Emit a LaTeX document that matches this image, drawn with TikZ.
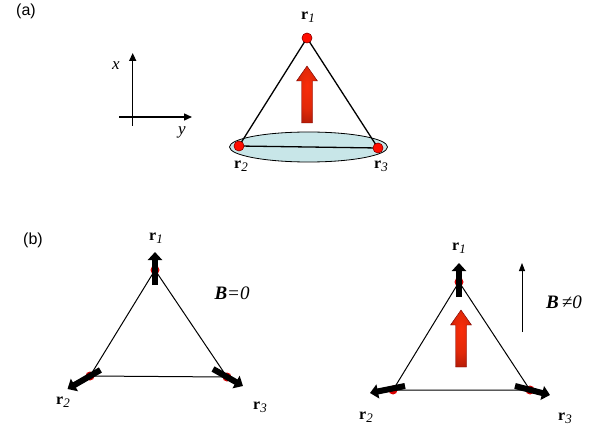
\documentclass[tikz,border=0pt]{standalone}
\usepackage{fontspec}
\setmainfont{Liberation Serif}
\newfontfamily\panelfont{Liberation Sans}
\usetikzlibrary{arrows.meta,positioning}

\definecolor{discblue}{RGB}{200,230,232}
\definecolor{glowred}{RGB}{250,45,10}
\definecolor{deepred}{RGB}{120,10,5}
\pgfdeclareradialshading{fieldglow}{\pgfpoint{0bp}{8bp}}{%
  color(0bp)=(glowred); color(18bp)=(glowred!90!black); color(38bp)=(deepred!80!glowred); color(50bp)=(deepred)}
\newcommand{\rsite}[1]{\textbf{r}\raisebox{-3pt}{\fontsize{13}{13}\selectfont\textit{#1}}}
% red arrow of the field: centre x, tip y, bottom y
\newcommand{\fieldarrow}[3]{%
  \path[field] (#1-5.5,#3) -- (#1-5.5,#2+15) -- (#1-10.5,#2+15) -- (#1,#2)
    -- (#1+10.5,#2+15) -- (#1+5.5,#2+15) -- (#1+5.5,#3) -- cycle;}

\tikzset{
  site/.style={circle, fill=red!90!orange, draw=red!50!black, inner sep=0pt, minimum size=10pt},
  smallsite/.style={circle, fill=red!85!black, inner sep=0pt, minimum size=9pt},
  bond/.style={line width=1pt},
  spin/.style={line width=6pt, -{Triangle[width=14pt,length=8pt]}},
  field/.style={shading=fieldglow, draw=red!45!black, line width=0.4pt},
  label/.style={font=\fontsize{16}{18}\selectfont},
  panel/.style={font=\panelfont\fontsize{16}{18}\selectfont},
}

\begin{document}
\begin{tikzpicture}[x=1pt, y=-1pt, >=latex]
        \useasboundingbox (0,0) rectangle (603,433);
        % ==== PANEL (a) ====
        \node[panel] (pa) at (26,11) {(a)};
        % axes
        \coordinate (ax0) at (132.7,117);
        \coordinate (axl) at (119,117);
        \coordinate (axr) at (192,117);
        \coordinate (axb) at (132.7,126);
        \coordinate (axt) at (132.7,53);
        \draw[line width=1.4pt, -{Triangle[width=7pt,length=8pt]}] (axl) -- (axr);
        \draw[line width=1.4pt, -{Triangle[width=7pt,length=8pt]}] (axb) -- (axt);
        \node[font=\fontsize{17}{19}\selectfont\itshape] (xlab) at (116,66) {x};
        \node[font=\fontsize{17}{19}\selectfont\itshape] (ylab) at (182,132) {y};
        % triangle with the disc
        \fill[discblue, draw=black, line width=0.8pt] (308.5,147) ellipse (79pt and 15pt);
        \node[site] (a1) at (307,38) {};
        \node[site] (a2) at (239,146) {};
        \node[site] (a3) at (378,148) {};
        \draw[bond, line width=1.3pt] (a1.center) -- (a2.center) -- (a3.center) -- cycle;
        \node[site] at (a1) {};
        \node[site] at (a2) {};
        \node[site] at (a3) {};
        \fieldarrow{307}{66}{123}
        \node[label] (ra1) at (308,17) {\rsite{1}};
        \node[label] (ra2) at (241,166) {\rsite{2}};
        \node[label] (ra3) at (381,166) {\rsite{3}};

        % ==== PANEL (b), B=0 ====
        \node[panel] (pb) at (33,240) {(b)};
        \node[smallsite] (l1) at (155,270) {};
        \node[smallsite] (l2) at (90,376) {};
        \node[smallsite] (l3) at (227,377) {};
        \draw[bond] (l1.center) -- (l2.center) -- (l3.center) -- cycle;
        \coordinate (l1tail) at (155,285);
        \coordinate (l1tip) at (155,252);
        \coordinate (l2tail) at (100.4,370);
        \coordinate (l2tip) at (67.5,389);
        \coordinate (l3tail) at (213,369);
        \coordinate (l3tip) at (243,386);
        \draw[spin] (l1tail) -- (l1tip);
        \draw[spin] (l2tail) -- (l2tip);
        \draw[spin] (l3tail) -- (l3tip);
        \node[label] (rl1) at (156,238) {\rsite{1}};
        \node[label] (rl2) at (63,402) {\rsite{2}};
        \node[label] (rl3) at (260,407) {\rsite{3}};
        \node[font=\fontsize{19}{21}\selectfont] (bzero) at (232,293) {\textbf{\textit{B}}\textit{=0}};

        % ==== PANEL (b), B NOT 0 ====
        \node[smallsite] (q1) at (459,282) {};
        \node[smallsite] (q2) at (393,390) {};
        \node[smallsite] (q3) at (530,390) {};
        \draw[bond] (q1.center) -- (q2.center) -- (q3.center) -- cycle;
        \fieldarrow{461}{310}{367}
        \coordinate (q1tail) at (459,297);
        \coordinate (q1tip) at (459,263);
        \coordinate (q2tail) at (405,386);
        \coordinate (q2tip) at (370,393);
        \coordinate (q3tail) at (515,386);
        \coordinate (q3tip) at (550,395);
        \draw[spin] (q1tail) -- (q1tip);
        \draw[spin] (q2tail) -- (q2tip);
        \draw[spin] (q3tail) -- (q3tip);
        \coordinate (btail) at (522,332);
        \coordinate (btip) at (522,263);
        \draw[line width=0.9pt, -{Triangle[width=6pt,length=8pt]}] (btail) -- (btip);
        \node[label] (rq1) at (459,248) {\rsite{1}};
        \node[label] (rq2) at (366,417) {\rsite{2}};
        \node[label] (rq3) at (565,418) {\rsite{3}};
        \node[font=\fontsize{19}{21}\selectfont] (bnot) at (564,302) {\textbf{\textit{B}}\,\textit{≠0}};
\end{tikzpicture}
\end{document}
